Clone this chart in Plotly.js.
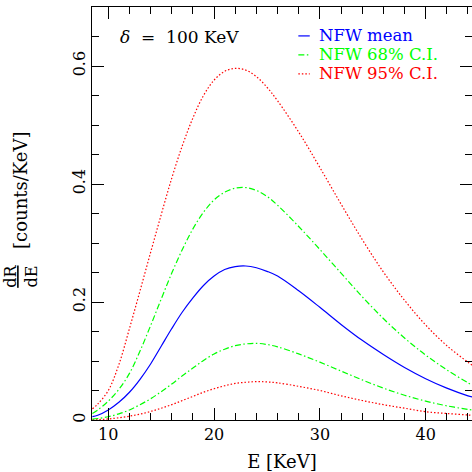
<!DOCTYPE html>
<html>
<head>
<meta charset="utf-8">
<script src="https://cdn.plot.ly/plotly-3.0.1.min.js"></script>
<style>html,body{margin:0;padding:0;background:#fff;}#chart{width:472px;height:472px;}</style>
</head>
<body>
<div id="chart"></div>
<script>
// Energy grid (KeV)
const energy    = [8.5, 9, 10, 11, 12, 13, 14, 15, 16, 17, 18, 19, 20, 21, 22, 23, 24, 25, 26, 28, 30, 32, 34, 36, 38, 40, 42, 44, 44.4];
// dR/dE [counts/KeV]
const nfwMean   = [0.0056, 0.008, 0.017, 0.030, 0.047, 0.069, 0.095, 0.125, 0.155, 0.183, 0.207, 0.228, 0.244, 0.255, 0.260, 0.261, 0.258, 0.252, 0.244, 0.219, 0.191, 0.162, 0.135, 0.111, 0.089, 0.070, 0.054, 0.041, 0.039];
const ci68Upper = [0.011, 0.017, 0.032, 0.052, 0.079, 0.117, 0.160, 0.205, 0.249, 0.289, 0.324, 0.352, 0.373, 0.386, 0.393, 0.394, 0.389, 0.379, 0.364, 0.328, 0.289, 0.249, 0.209, 0.172, 0.139, 0.110, 0.085, 0.063, 0.059];
const ci68Lower = [0.0015, 0.0025, 0.0055, 0.0105, 0.017, 0.026, 0.036, 0.048, 0.061, 0.075, 0.088, 0.101, 0.112, 0.120, 0.126, 0.129, 0.130, 0.128, 0.124, 0.112, 0.098, 0.083, 0.068, 0.054, 0.042, 0.032, 0.024, 0.018, 0.017];
const ci95Upper = [0.019, 0.027, 0.050, 0.094, 0.155, 0.219, 0.284, 0.348, 0.410, 0.465, 0.512, 0.550, 0.576, 0.591, 0.596, 0.593, 0.582, 0.564, 0.541, 0.488, 0.428, 0.366, 0.306, 0.251, 0.203, 0.161, 0.126, 0.098, 0.093];
const ci95Lower = [0.0004, 0.0007, 0.0018, 0.0038, 0.0065, 0.010, 0.0145, 0.020, 0.026, 0.033, 0.040, 0.047, 0.053, 0.058, 0.062, 0.064, 0.065, 0.0645, 0.063, 0.057, 0.050, 0.041, 0.033, 0.026, 0.020, 0.014, 0.011, 0.0085, 0.008];

const legendLabels = ["NFW mean", "NFW 68% C.I.", "NFW 95% C.I."];
const xTickVals = [10, 20, 30, 40];
const yTickVals = [0, 0.2, 0.4, 0.6];
const yTickText = ["0", "0.2", "0.4", "0.6"];

const BLUE = "#0000ff", GREEN = "#00ff00", RED = "#ff0000";
const DOT = "1.5px,2px", DASHDOT = "6px,2.5px,1.5px,2.5px";
const serif = "DejaVu Serif, Liberation Serif, serif";

function tr(y, color, dash) {
  return {x: energy, y: y, mode: "lines", type: "scatter", showlegend: false,
          line: {color: color, width: 1.2, dash: dash, shape: "spline", smoothing: 1}};
}
const data = [
  tr(ci95Upper, RED, DOT), tr(ci95Lower, RED, DOT),
  tr(ci68Upper, GREEN, DASHDOT), tr(ci68Lower, GREEN, DASHDOT),
  tr(nfwMean, BLUE, "solid")
];

const axCommon = {
  showgrid: false, zeroline: false, showline: true, linecolor: "#000", linewidth: 1,
  mirror: "ticks", ticks: "inside", ticklen: 12, tickwidth: 1, tickcolor: "#000",
  tickfont: {family: serif, size: 16, color: "#000"}
};

const legendY = [0.930, 0.884, 0.838];
const legendColors = [BLUE, GREEN, RED];
const legendDash = ["solid", DASHDOT, DOT];

const legendText = legendLabels.map((lab, i) =>
  "<span style='font-size:16.5px;color:" + legendColors[i] + "'>" + lab + "</span>").join("<br>");

const annotations = [
  {xref: "paper", yref: "paper", x: 0.068, y: 0.927, xanchor: "left", yanchor: "middle", showarrow: false,
   text: "<i>δ</i>&nbsp; =&nbsp; 100 KeV", font: {family: serif, size: 17, color: "#000"}},
  {xref: "paper", yref: "paper", x: -0.187, y: 0.557, xanchor: "center", yanchor: "middle", showarrow: false,
   textangle: -90, text: "[counts/KeV]", font: {family: serif, size: 18, color: "#000"}},
  {xref: "paper", yref: "paper", x: -0.187, y: 0.349, xanchor: "center", yanchor: "middle", showarrow: false,
   textangle: -90, text: "<u>dR</u><br>dE", font: {family: serif, size: 16, color: "#000"}},
  {xref: "paper", yref: "paper", x: 0.595, y: legendY[1], xanchor: "left", yanchor: "middle", align: "left",
   showarrow: false, borderpad: 0, text: legendText, font: {family: serif, size: 14.6, color: "#000"}}
];
const shapes = legendLabels.map((lab, i) => ({
  type: "line", xref: "paper", yref: "paper", x0: 0.543, x1: 0.573, y0: legendY[i], y1: legendY[i],
  line: {color: legendColors[i], width: 1.2, dash: legendDash[i]}
}));

const layout = {
  width: 472, height: 472,
  margin: {l: 92, r: 0, t: 7, b: 52},
  paper_bgcolor: "#fff", plot_bgcolor: "#fff",
  xaxis: Object.assign({}, axCommon, {
    range: [8.46, 44.38], tickvals: xTickVals, ticktext: xTickVals.map(String),
    minor: {dtick: 2, tick0: 0, ticks: "inside", ticklen: 7, tickwidth: 1, tickcolor: "#000"},
    title: {text: "E [KeV]", font: {family: serif, size: 18, color: "#000"}, standoff: 12}
  }),
  yaxis: Object.assign({}, axCommon, {
    range: [0, 0.7], tickvals: yTickVals, ticktext: yTickText, tickangle: -90,
    minor: {dtick: 0.05, tick0: 0, ticks: "inside", ticklen: 7, tickwidth: 1, tickcolor: "#000"}
  }),
  annotations: annotations,
  shapes: shapes
};

Plotly.newPlot("chart", data, layout, {staticPlot: true, displayModeBar: false});
</script>
</body>
</html>
